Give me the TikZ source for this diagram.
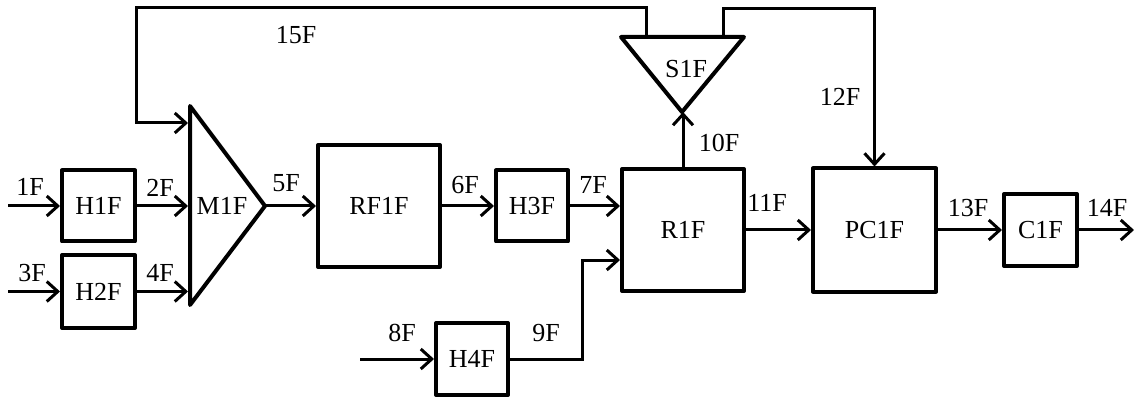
\documentclass[tikz,border=0pt]{standalone}
\usepackage{fontspec}
\setmainfont{Liberation Serif}
\usetikzlibrary{arrows.meta}
\begin{document}
\begin{tikzpicture}[x=1pt,y=-1pt,
  font=\fontsize{26}{30}\selectfont,
  blk/.style={draw,line width=4pt,inner sep=0pt,rectangle,line join=round},
  tri/.style={draw,line width=4pt,line join=round},
  arr/.style={line width=3pt,-{Straight Barb[length=11pt,width=20pt]}},
  lbl/.style={inner sep=0pt}]
\useasboundingbox (0,0) rectangle (1134,403);
% boxes
\node[blk,minimum width=73pt,minimum height=71pt] (H1F) at (98.5,206) {H1F};
\node[blk,minimum width=73pt,minimum height=73pt] (H2F) at (98.5,291.5) {H2F};
\node[blk,minimum width=122pt,minimum height=122pt] (RF1F) at (379,206) {RF1F};
\node[blk,minimum width=72pt,minimum height=71pt] (H3F) at (532,206) {H3F};
\node[blk,minimum width=122pt,minimum height=122pt] (R1F) at (683,230) {R1F};
\node[blk,minimum width=72pt,minimum height=72pt] (H4F) at (472,359) {H4F};
\node[blk,minimum width=123pt,minimum height=123pt] (PC1F) at (874.5,230) {PC1F};
\node[blk,minimum width=73pt,minimum height=72pt] (C1F) at (1040.5,230) {C1F};
% mixer triangle
\coordinate (m1t) at (190,106);
\coordinate (m1b) at (190,305);
\coordinate (m1c) at (265,206);
\draw[tri] (m1t) -- (m1b) -- (m1c) -- cycle;
\node (M1F) at (222,206) {M1F};
\coordinate (m1in15) at (188,123);
\coordinate (m1L) at (188,0);
% splitter triangle
\coordinate (s1l) at (621,37);
\coordinate (s1r) at (744,37);
\coordinate (s1b) at (682,112);
\draw[tri] (s1l) -- (s1r) -- (s1b) -- cycle;
\node (S1F) at (686,69) {S1F};
\coordinate (s1o15) at (646,35);
\coordinate (s1o12) at (723,35);
% free ends
\coordinate (in1) at (8,206);
\coordinate (in3) at (8,291.5);
\coordinate (in8) at (360,359);
\coordinate (out14) at (1134,230);
% connectors
\draw[arr] (in1) -- (H1F.west);
\draw[arr] (in3) -- (H2F.west);
\draw[arr] (H1F.east) -- (H1F.east -| m1L);
\draw[arr] (H2F.east) -- (H2F.east -| m1L);
\draw[arr] (m1c) -- (RF1F.west);
\draw[arr] (RF1F.east) -- (H3F.west);
\draw[arr] (H3F.east) -- (H3F.east -| R1F.west);
\draw[arr] (in8) -- (H4F.west);
\draw[arr] (H4F.east) -- ++(72,0) |- ([yshift=-30pt]R1F.west);
\draw[arr] (R1F.north) -- (R1F.north |- s1b);
\draw[arr] (R1F.east) -- (PC1F.west);
\draw[arr] (PC1F.east) -- (C1F.west);
\draw[arr] (C1F.east) -- (out14);
\draw[arr] (s1o15) -- ++(0,-27) -| (136,123) -- (m1in15);
\draw[arr] (s1o12) -- ++(0,-26) -| (PC1F.north);
% labels
\node[lbl] (l1) at (30,187) {1F};
\node[lbl] (l3) at (32,273) {3F};
\node[lbl] (l2) at (160,188) {2F};
\node[lbl] (l4) at (160,273) {4F};
\node[lbl] (l5) at (286,183) {5F};
\node[lbl] (l6) at (465,185) {6F};
\node[lbl] (l7) at (593,185) {7F};
\node[lbl] (l8) at (402,333) {8F};
\node[lbl] (l9) at (546,333) {9F};
\node[lbl] (l10) at (719,143) {10F};
\node[lbl] (l11) at (767,203) {11F};
\node[lbl] (l12) at (840,97) {12F};
\node[lbl] (l13) at (968,208) {13F};
\node[lbl] (l14) at (1107,208) {14F};
\node[lbl] (l15) at (296,35) {15F};
\end{tikzpicture}
\end{document}
